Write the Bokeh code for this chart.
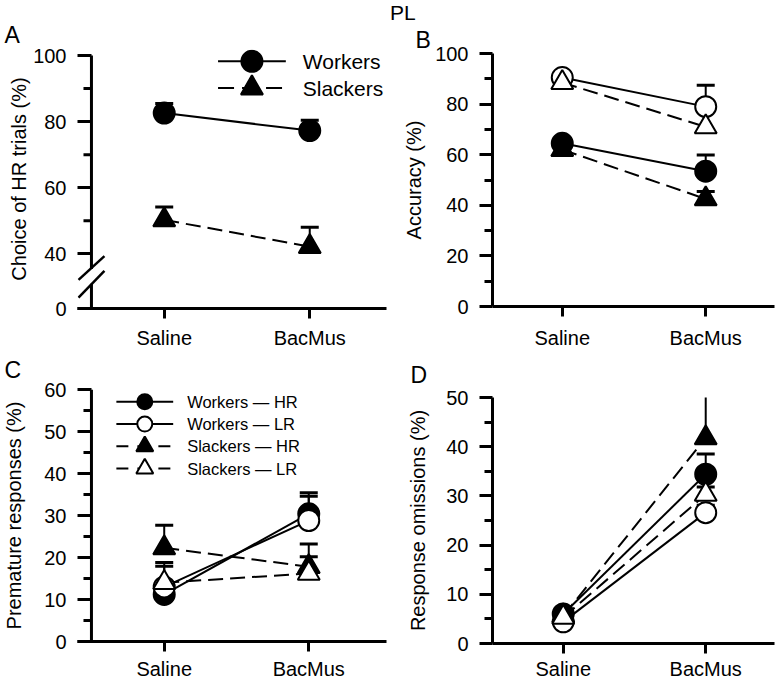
from bokeh.plotting import figure
from bokeh.layouts import column, row
from bokeh.models import FixedTicker, Range1d, Div
from bokeh.core.properties import value
from bokeh.embed import file_html
from bokeh.resources import INLINE

FONT = "Liberation Sans"

conditions = ["Saline", "BacMus"]
cond_pos = [1, 2]

# Panel A: Choice of HR trials (%)
a_groups = ["Workers", "Slackers"]
a_workers_mean = [82.6, 77.3]
a_workers_sem = [2.9, 3.1]
a_slackers_mean = [50.3, 42.2]
a_slackers_sem = [3.9, 5.9]

# Panel B: Accuracy (%)
b_workers_hr_mean = [64.5, 53.5]
b_workers_hr_sem = [1.8, 6.4]
b_workers_lr_mean = [90.5, 79.0]
b_workers_lr_sem = [1.2, 8.5]
b_slackers_hr_mean = [62.0, 42.5]
b_slackers_hr_sem = [1.8, 3.0]
b_slackers_lr_mean = [88.5, 71.0]
b_slackers_lr_sem = [1.5, 8.3]

# Panel C: Premature responses (%)
c_workers_hr_mean = [11.2, 30.4]
c_workers_hr_sem = [1.5, 5.0]
c_workers_lr_mean = [13.0, 28.8]
c_workers_lr_sem = [4.9, 5.8]
c_slackers_hr_mean = [22.3, 17.8]
c_slackers_hr_sem = [5.4, 5.4]
c_slackers_lr_mean = [14.0, 16.2]
c_slackers_lr_sem = [4.8, 4.0]

# Panel D: Response omissions (%)
d_workers_hr_mean = [6.0, 34.4]
d_workers_hr_sem = [0.8, 4.1]
d_workers_lr_mean = [4.4, 26.6]
d_workers_lr_sem = [0.7, 1.5]
d_slackers_hr_mean = [5.6, 41.8]
d_slackers_hr_sem = [0.8, 8.9]
d_slackers_lr_mean = [5.3, 30.3]
d_slackers_lr_sem = [0.8, 1.5]

series_names = ["Workers \u2014 HR", "Workers \u2014 LR", "Slackers \u2014 HR", "Slackers \u2014 LR"]
STYLES = [
    dict(marker="circle", fill="black", dash="solid"),
    dict(marker="circle", fill="white", dash="solid"),
    dict(marker="triangle", fill="black", dash="15 7"),
    dict(marker="triangle", fill="white", dash="15 7"),
]
MSIZE = {"circle": 21, "triangle": 22}


class Geo:
    """Maps page pixels to data units for a panel (layout helper)."""
    def __init__(self, fl, fr, ft, fb, xr, yr):
        self.fl, self.fr, self.ft, self.fb = fl, fr, ft, fb
        self.xr, self.yr = xr, yr

    def x(self, px):
        return self.xr[0] + (px - self.fl) * (self.xr[1] - self.xr[0]) / (self.fr - self.fl)

    def y(self, py):
        return self.yr[0] + (self.fb - py) * (self.yr[1] - self.yr[0]) / (self.fb - self.ft)


def x_range_for(fl, fr, saline_px, bacmus_px):
    ppu = bacmus_px - saline_px
    start = 1 - (saline_px - fl) / ppu
    return (start, start + (fr - fl) / ppu)


def make_panel(width, height, geo, canvas_left, canvas_top, y_ticks, y_minor, y_title,
               title_standoff, x_standoff, letter, letter_px, letter_valign, letter_standoff,
               overrides=None, own_y_axis=False):
    bl = geo.fl - canvas_left
    br = canvas_left + width - geo.fr
    bt = geo.ft - canvas_top
    bb = canvas_top + height - geo.fb
    p = figure(width=width, height=height, x_range=Range1d(*geo.xr), y_range=Range1d(*geo.yr),
               output_backend="svg", toolbar_location=None, title=letter,
               min_border_left=bl, min_border_right=br, min_border_top=bt, min_border_bottom=bb)
    p.outline_line_color = None
    p.xgrid.visible = False
    p.ygrid.visible = False
    t = p.title
    t.align = "left"
    t.offset = letter_px - geo.fl
    t.vertical_align = letter_valign
    t.standoff = letter_standoff
    t.text_font = FONT
    t.text_font_size = "23px"
    t.text_font_style = "normal"
    t.text_color = "black"
    for ax in (p.xaxis[0], p.yaxis[0]):
        ax.axis_line_width = 3
        ax.axis_line_color = "black"
        ax.major_tick_line_width = 3
        ax.major_tick_line_color = "black"
        ax.minor_tick_line_width = 3
        ax.minor_tick_line_color = "black"
        ax.major_tick_in = 0
        ax.minor_tick_in = 0
        ax.major_label_text_font = FONT
        ax.major_label_text_font_size = "20px"
        ax.major_label_text_color = "black"
        ax.axis_label_text_font = FONT
        ax.axis_label_text_font_size = "20px"
        ax.axis_label_text_font_style = "normal"
        ax.axis_label_text_color = "black"
    xa = p.xaxis[0]
    xa.ticker = FixedTicker(ticks=cond_pos)
    xa.major_label_overrides = dict(zip(cond_pos, conditions))
    xa.major_tick_out = 10
    xa.minor_tick_out = 0
    xa.major_label_standoff = x_standoff
    ya = p.yaxis[0]
    ya.axis_label = y_title
    ya.axis_label_standoff = title_standoff
    ya.major_label_standoff = 11
    if overrides:
        ya.major_label_overrides = overrides
    if own_y_axis:
        ya.ticker = FixedTicker(ticks=y_ticks, minor_ticks=[])
        ya.axis_line_color = None
        ya.major_tick_out = 0
        ya.major_tick_in = 14
        ya.minor_tick_out = 0
    else:
        ya.ticker = FixedTicker(ticks=y_ticks, minor_ticks=y_minor)
        ya.major_tick_out = 13
        ya.minor_tick_out = 8
    return p


def own_axis(p, geo, axis_px, y_bottom, y_top, minor_vals, gap_px=None):
    """Draw the y-axis line (optionally broken) and its minor ticks inside the frame."""
    ax_x = geo.x(axis_px)
    if gap_px:
        y0s = [y_bottom, geo.y(gap_px[0])]
        y1s = [geo.y(gap_px[1]), y_top]
    else:
        y0s, y1s = [y_bottom], [y_top]
    p.segment(x0=[ax_x] * len(y0s), y0=y0s, x1=[ax_x] * len(y0s), y1=y1s,
              line_color="black", line_width=3)
    p.segment(x0=[geo.x(axis_px - 8)] * len(minor_vals), y0=minor_vals,
              x1=[ax_x] * len(minor_vals), y1=minor_vals, line_color="black", line_width=3)


def draw_group(p, means, sems, styles):
    for m, s in zip(means, sems):
        tops = [a + b for a, b in zip(m, s)]
        p.segment(x0=cond_pos, y0=m, x1=cond_pos, y1=tops, line_color="black", line_width=2)
        p.scatter(x=cond_pos, y=tops, marker="dash", size=18, line_color="black", line_width=3)
    for m, st in zip(means, styles):
        p.line(x=cond_pos, y=m, line_color="black", line_width=2, line_dash=st["dash"])
    for m, st in zip(means, styles):
        p.scatter(x=cond_pos, y=m, marker=st["marker"], size=MSIZE[st["marker"]],
                  fill_color=st["fill"], line_color="black", line_width=2)


def manual_legend(p, geo, names, styles, x0, x1, rows_py, text_px, msizes, dash, font_size):
    xm = geo.x((x0 + x1) / 2)
    for name, st, py in zip(names, styles, rows_py):
        yy = geo.y(py)
        p.line(x=[geo.x(x0), geo.x(x1)], y=[yy, yy], line_color="black", line_width=2,
               line_dash=("solid" if st["dash"] == "solid" else dash))
        p.scatter(x=[xm], y=[yy], marker=st["marker"], size=msizes[st["marker"]],
                  fill_color=st["fill"], line_color="black", line_width=2)
    p.text(x=[geo.x(text_px)] * len(names), y=[geo.y(py) for py in rows_py], text=names,
           text_font=value(FONT), text_font_size=value(font_size), text_baseline="middle",
           text_align="left", text_color="black")


# ---------------- Header ----------------
TOP = 20
MID = 351
BOTTOM = 682
header = Div(text=('<div style="width:775px;height:20px;box-sizing:border-box;padding-left:390px;'
                   'text-align:left;font-family:\'Liberation Sans\';font-size:21px;'
                   'line-height:20px;position:relative;top:3px;color:black;white-space:nowrap;">PL</div>'),
             width=775, height=TOP, margin=0)

# ---------------- Panel A ----------------
a_ppu = (255.7 - 55.0) / 60.0
a_ystart = 23.5
geo_a = Geo(76, 386, 49, 311, x_range_for(76, 386, 163, 309),
            (a_ystart, a_ystart + (311 - 49) / a_ppu))
pa = make_panel(400, MID - TOP, geo_a, 0, TOP, [a_ystart, 40, 60, 80, 100], [50, 70, 90],
                "Choice of HR trials (%)", 0, 8, "A", 3, "top", 0,
                overrides={a_ystart: "0"}, own_y_axis=True)
own_axis(pa, geo_a, 90, a_ystart, 100, [50, 70, 90], gap_px=(271, 286))
pa.segment(x0=[geo_a.x(77), geo_a.x(77)], y0=[geo_a.y(282), geo_a.y(300)],
           x1=[geo_a.x(103), geo_a.x(103)], y1=[geo_a.y(258), geo_a.y(273)],
           line_color="black", line_width=2.5)
draw_group(pa, [a_workers_mean, a_slackers_mean], [a_workers_sem, a_slackers_sem],
           [STYLES[0], STYLES[2]])
manual_legend(pa, geo_a, a_groups, [STYLES[0], STYLES[2]], 217, 285, [61, 88], 302,
              MSIZE, "16 8", "21px")

# ---------------- Panel C ----------------
geo_c = Geo(76, 386, 389, 644, x_range_for(76, 386, 163, 308), (0, 60))
pc = make_panel(400, BOTTOM - MID, geo_c, 0, MID, [0, 10, 20, 30, 40, 50, 60],
                [5, 15, 25, 35, 45, 55], "Premature responses (%)", 16, 6, "C", 3, "top", 10,
                own_y_axis=True)
own_axis(pc, geo_c, 90, 0, 60, [5, 15, 25, 35, 45, 55])
draw_group(pc, [c_workers_hr_mean, c_workers_lr_mean, c_slackers_hr_mean, c_slackers_lr_mean],
           [c_workers_hr_sem, c_workers_lr_sem, c_slackers_hr_sem, c_slackers_lr_sem], STYLES)
manual_legend(pc, geo_c, series_names, STYLES, 115, 172, [401.5, 424, 446.5, 469], 186,
              {"circle": 15, "triangle": 17}, "12 9", "16.5px")

# ---------------- Panel B ----------------
geo_b = Geo(487, 774, 53, 309, x_range_for(487, 774, 558, 704), (0, 100))
pb = make_panel(375, MID - TOP, geo_b, 400, TOP, [0, 20, 40, 60, 80, 100], [10, 30, 50, 70, 90],
                "Accuracy (%)", 7, 10, "B", 410, "bottom", 2)
draw_group(pb, [b_workers_hr_mean, b_workers_lr_mean, b_slackers_hr_mean, b_slackers_lr_mean],
           [b_workers_hr_sem, b_workers_lr_sem, b_slackers_hr_sem, b_slackers_lr_sem], STYLES)

# ---------------- Panel D ----------------
geo_d = Geo(487, 774, 397, 646, x_range_for(487, 774, 559, 704), (0, 50))
pd_ = make_panel(375, BOTTOM - MID, geo_d, 400, MID, [0, 10, 20, 30, 40, 50], [5, 15, 25, 35, 45],
                 "Response omissions (%)", 14, 4, "D", 405, "top", 16)
draw_group(pd_, [d_workers_hr_mean, d_workers_lr_mean, d_slackers_hr_mean, d_slackers_lr_mean],
           [d_workers_hr_sem, d_workers_lr_sem, d_slackers_hr_sem, d_slackers_lr_sem], STYLES)

layout = column(header, row(column(pa, pc), column(pb, pd_)))
open("out.html", "w").write(file_html(layout, INLINE))
